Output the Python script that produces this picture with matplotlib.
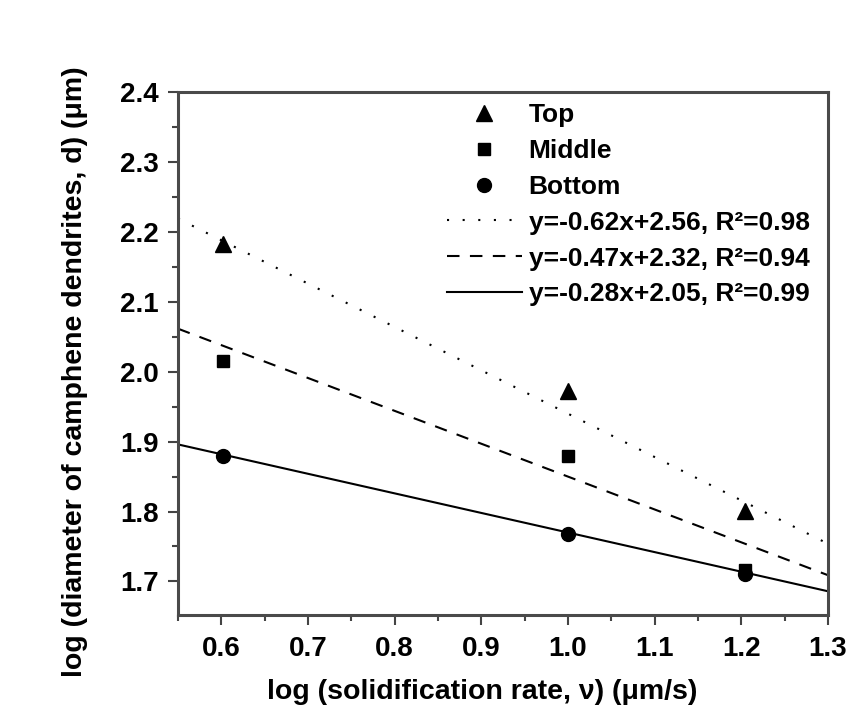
import matplotlib
matplotlib.use("Agg")
import matplotlib.pyplot as plt
import numpy as np
from matplotlib.ticker import MultipleLocator, FormatStrFormatter

plt.rcParams['font.family'] = ['Liberation Sans', 'DejaVu Sans']
plt.rcParams['font.weight'] = 'bold'

# measured points (log v, log d)
logv = [0.602, 1.0, 1.204]
top = [2.182, 1.972, 1.801]
middle = [2.015, 1.880, 1.716]
bottom = [1.880, 1.768, 1.710]

# fitted lines from the legend: slope, intercept, R^2
fits = [(-0.62, 2.56, 0.98), (-0.47, 2.32, 0.94), (-0.28, 2.05, 0.99)]
fit_styles = [(0, (1, 6.5)), (0, (6, 5)), '-']

fig = plt.figure(figsize=(8.57, 7.28), dpi=100)
ax = fig.add_axes([0.2077, 0.1552, 0.7583, 0.7184])

ax.plot(logv, top, '^', color='black', markersize=12, label='Top', linestyle='none')
ax.plot(logv, middle, 's', color='black', markersize=9, label='Middle', linestyle='none')
ax.plot(logv, bottom, 'o', color='black', markersize=10, label='Bottom', linestyle='none')

xx = np.array([0.55, 1.3])
for (m, b, r2), ls in zip(fits, fit_styles):
    ax.plot(xx, m * xx + b, color='black', linestyle=ls, linewidth=1.5,
            label='y=%.2fx+%.2f, R\u00b2=%.2f' % (m, b, r2))

ax.set_xlim(0.55, 1.3)
ax.set_ylim(1.652, 2.4)
ax.set_xticks(np.arange(0.6, 1.31, 0.1))
ax.set_yticks(np.arange(1.7, 2.41, 0.1))
ax.xaxis.set_minor_locator(MultipleLocator(0.05))
ax.yaxis.set_minor_locator(MultipleLocator(0.05))
ax.xaxis.set_major_formatter(FormatStrFormatter('%.1f'))
ax.yaxis.set_major_formatter(FormatStrFormatter('%.1f'))
ax.tick_params(which='both', direction='out', width=1.5, labelsize=20, colors='#444444', labelcolor='black')
ax.tick_params(which='major', length=7)
ax.tick_params(which='minor', length=4)
ax.tick_params(axis='x', which='major', pad=8)
ax.tick_params(axis='y', which='major', pad=7)
for s in ax.spines.values():
    s.set_linewidth(2.2)
    s.set_color('#4a4a4a')

ax.set_xlabel('log (solidification rate, \u03bd) (\u03bcm/s)', fontsize=20.5, fontweight='bold')
ax.set_ylabel('log (diameter of camphene dendrites, d) (\u03bcm)', fontsize=20.5, fontweight='bold')
ax.xaxis.set_label_coords(0.468, -0.122)
ax.yaxis.set_label_coords(-0.138, 0.465)

leg = ax.legend(loc='upper right', bbox_to_anchor=(0.972, 0.979), frameon=False, fontsize=19,
                handlelength=2.85, handletextpad=0.25, labelspacing=0.45,
                borderpad=0, borderaxespad=0)

fig.savefig('out.png', dpi=100)
